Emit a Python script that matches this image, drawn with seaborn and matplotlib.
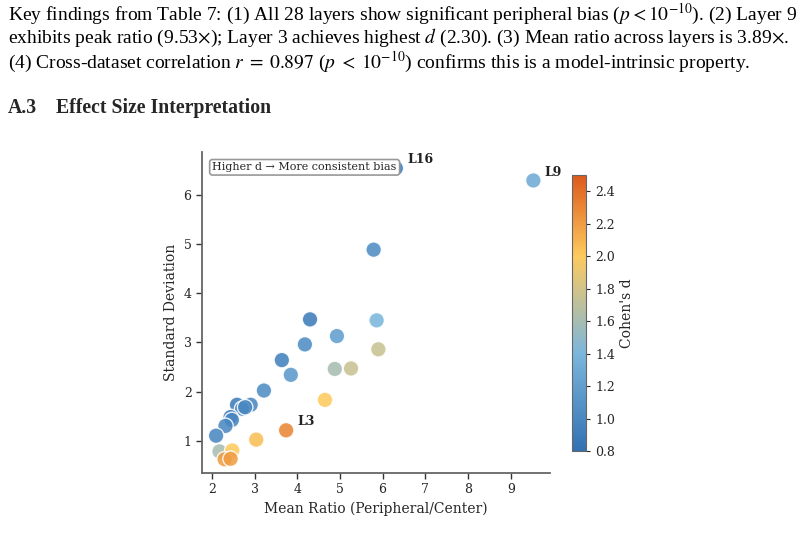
import numpy as np
import pandas as pd
import matplotlib
matplotlib.use("Agg")
import matplotlib.pyplot as plt
import seaborn as sns
from matplotlib.colors import LinearSegmentedColormap, Normalize
from matplotlib.cm import ScalarMappable

# ---- data ----
layers = ["L16", "L9", "La", "Lb", "Lc", "Ld", "Le", "Lf", "Lg", "Lh",
          "Li", "Lj", "Lk", "Ll", "Lm", "Ln", "Lo", "Lp", "Lq", "Lr",
          "Ls", "L3", "Lt", "Lu", "Lv", "Lw", "Lx", "Ly"]
mean_ratio = [6.31, 9.53, 5.79, 4.30, 5.86, 4.18, 4.93, 5.90, 3.64, 3.85,
              4.88, 5.26, 3.22, 4.65, 2.59, 2.91, 2.71, 2.44, 2.47, 2.32,
              2.10, 3.74, 3.04, 2.18, 2.48, 2.30, 2.44, 2.78]
std_dev = [6.55, 6.30, 4.89, 3.47, 3.45, 2.96, 3.13, 2.86, 2.64, 2.34,
           2.46, 2.47, 2.02, 1.83, 1.73, 1.73, 1.65, 1.48, 1.42, 1.30,
           1.10, 1.21, 1.02, 0.78, 0.80, 0.62, 0.63, 1.68]
cohens_d = [0.90, 1.30, 1.05, 0.90, 1.40, 1.05, 1.20, 1.75, 0.95, 1.15,
            1.60, 1.75, 1.05, 2.00, 0.90, 1.00, 1.00, 0.90, 1.00, 1.00,
            1.00, 2.30, 2.05, 1.60, 2.00, 2.20, 2.20, 1.00]
labelled = ["L16", "L9", "L3"]
cbar_ticks = [0.8, 1.0, 1.2, 1.4, 1.6, 1.8, 2.0, 2.2, 2.4]

df = pd.DataFrame({"layer": layers, "ratio": mean_ratio, "std": std_dev, "d": cohens_d})

sns.set_style("ticks")
plt.rcParams["font.family"] = ["DejaVu Serif"]
plt.rcParams["mathtext.fontset"] = "stix"

fig = plt.figure(figsize=(8.07, 5.40), dpi=100)

# ---- page text ----
para_font = dict(family=["Liberation Serif"], fontsize=14, color="black")
lines = [
    r"Key findings from Table 7: (1) All 28 layers show significant peripheral bias ($p < 10^{-10}$). (2) Layer 9",
    r"exhibits peak ratio (9.53$\times$); Layer 3 achieves highest $d$ (2.30). (3) Mean ratio across layers is 3.89$\times$.",
    r"(4) Cross-dataset correlation $r\;=\;0.897$ ($p\;<\;10^{-10}$) confirms this is a model-intrinsic property.",
]
for i, ln in enumerate(lines):
    fig.text(8 / 807, 1 - (14 + 24 * i) / 540, ln, va="center", ha="left", **para_font)
fig.text(8 / 807, 1 - 108 / 540, "A.3", va="center", ha="left",
         family=["Liberation Serif"], fontsize=14.2, fontweight="bold")
fig.text(56 / 807, 1 - 108 / 540, "Effect Size Interpretation", va="center", ha="left",
         family=["Liberation Serif"], fontsize=14.2, fontweight="bold")

# ---- scatter ----
cmap = LinearSegmentedColormap.from_list(
    "bias", [(0.0, "#3171b3"), (0.353, "#7bb6dc"), (0.706, "#fdca5e"), (1.0, "#dc5a1b")])
norm = Normalize(vmin=0.8, vmax=2.5)

ax = fig.add_axes([202 / 807, 1 - 473 / 540, 348 / 807, 321 / 540])
sns.scatterplot(data=df, x="ratio", y="std", hue="d", palette=cmap, hue_norm=norm,
                s=125, edgecolor="white", linewidth=1.0, alpha=0.88, legend=False, ax=ax)
ax.set_xlim(1.77, 9.92)
ax.set_ylim(0.34, 6.88)
ax.set_xticks([2, 3, 4, 5, 6, 7, 8, 9])
ax.set_yticks([1, 2, 3, 4, 5, 6])
ax.set_xlabel("Mean Ratio (Peripheral/Center)", fontsize=10)
ax.set_ylabel("Standard Deviation", fontsize=10)
ax.tick_params(labelsize=9, length=4, width=1, color="#333333")
sns.despine(ax=ax)
for sp in ["left", "bottom"]:
    ax.spines[sp].set_color("#666666")
    ax.spines[sp].set_linewidth(1.3)

for _, r in df[df["layer"].isin(labelled)].iterrows():
    ax.annotate(r["layer"], (r["ratio"], r["std"]), xytext=(8, 6), textcoords="offset points",
                fontsize=9, fontweight="bold", ha="left", va="center", color="#222222")

ax.text(0.03, 0.968, "Higher d \u2192 More consistent bias", transform=ax.transAxes,
        fontsize=8, ha="left", va="top",
        bbox=dict(boxstyle="round,pad=0.25", facecolor="white", edgecolor="#999999", linewidth=1.2))

# ---- colorbar ----
cax = fig.add_axes([572 / 807, 1 - 451 / 540, 14 / 807, 276 / 540])
sm = ScalarMappable(norm=norm, cmap=cmap)
cb = fig.colorbar(sm, cax=cax)
cb.set_ticks(cbar_ticks)
cb.ax.tick_params(labelsize=9, length=3)
cb.outline.set_edgecolor("#666666")
cb.set_label("Cohen's d", fontsize=10)

fig.savefig("out.png", dpi=100)
